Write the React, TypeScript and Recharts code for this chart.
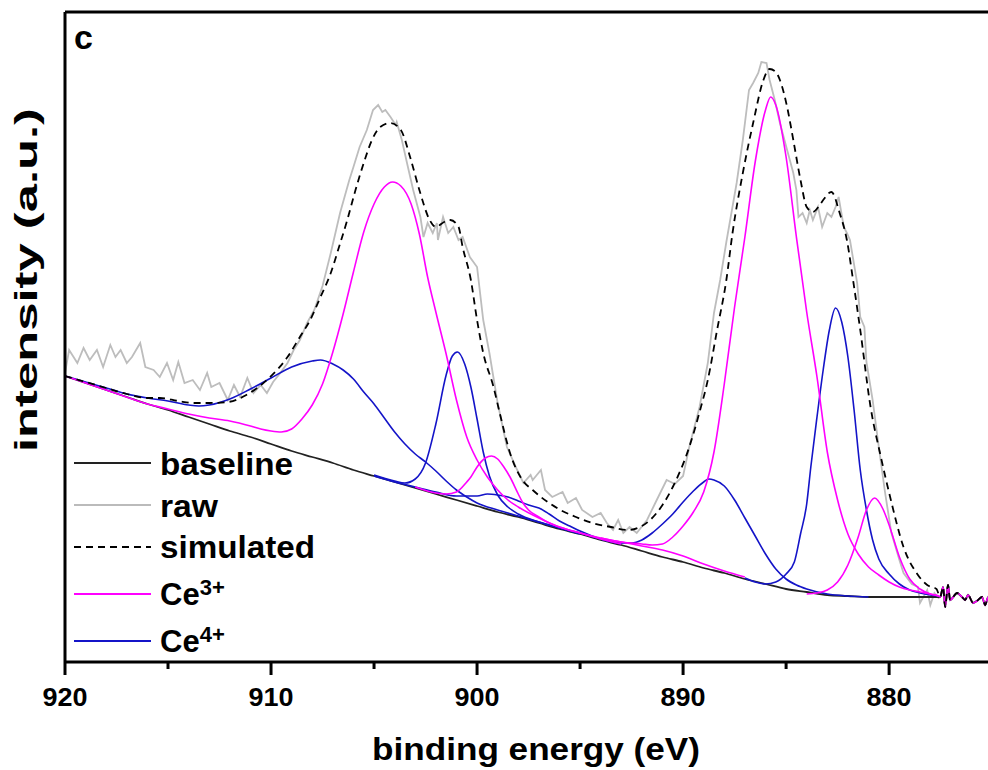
import { LineChart, Line, XAxis, YAxis, ReferenceLine } from 'recharts'

type Pt = [number, number]

// Ce 3d spectrum, binding energy (eV) vs. intensity (a.u.)
const baseline: Pt[] = [
  [920, 286], [919, 279], [918, 272], [917, 265], [916, 258], [915, 252], [914, 245], [913, 238],
  [912, 231], [911, 225], [910, 218], [909, 211], [908, 205], [907, 199], [906, 192], [905, 186],
  [904, 180], [903, 174], [902, 168], [901, 162], [900, 156], [899, 150], [898, 145], [897, 139],
  [896, 133], [895, 128], [894, 122], [893, 117], [892, 111], [891, 105], [890, 100], [889, 94],
  [888, 89], [887, 83], [886, 78], [885, 73], [884, 70], [883, 67], [882, 66], [881, 65],
  [880, 65], [879, 65], [878, 65], [877.6, 65],
]

// noisy low-energy end shared by the traces
const tail: Pt[] = [
  [877.52, 65], [877.38, 75], [877.28, 55], [877.14, 77], [877.04, 62], [876.7, 69], [876.46, 65],
  [876.31, 62], [876.17, 67], [875.92, 59], [875.68, 62], [875.49, 65], [875.34, 57], [875.19, 65],
  [875.0, 62],
]

const raw: Pt[] = [
  [920, 289], [919.8, 312], [919.4, 299], [919.1, 314], [918.8, 302], [918.45, 312], [918.15, 295],
  [917.8, 317], [917.55, 305], [917.3, 312], [917.0, 299], [916.75, 305], [916.35, 319], [916.1, 295],
  [915.7, 292], [915.4, 285], [915.05, 299], [914.75, 282], [914.5, 300], [914.2, 279], [913.8, 282],
  [913.45, 272], [913.1, 289], [912.9, 275], [912.5, 279], [912.1, 262], [911.8, 277], [911.5, 265],
  [911.15, 284], [910.85, 269], [910.5, 277], [910.2, 269], [909.9, 280], [909.55, 289], [909.2, 299],
  [908.9, 312], [908.6, 322], [908.25, 339], [907.9, 352], [907.5, 376], [907.1, 409], [906.65, 449],
  [906.2, 482], [906.0, 495], [905.7, 515], [905.35, 532], [905.05, 552], [904.8, 557], [904.6, 550],
  [904.45, 552], [904.2, 545], [903.95, 537], [903.9, 540], [903.65, 522], [903.4, 499], [903.1, 472],
  [902.75, 445], [902.6, 425], [902.4, 439], [902.15, 429], [901.95, 439], [901.9, 422], [901.65, 445],
  [901.4, 429], [901.15, 435], [900.9, 422], [900.7, 425], [900.35, 405], [900.0, 395], [899.7, 342],
  [899.4, 309], [899.0, 259], [898.55, 215], [898.05, 192], [897.75, 179], [897.4, 187], [897.3, 182],
  [896.9, 192], [896.7, 172], [896.35, 165], [895.85, 170], [895.6, 159], [895.2, 164], [894.9, 152],
  [894.4, 145], [894.0, 149], [893.7, 139], [893.4, 132], [893.15, 142], [892.9, 129], [892.6, 135],
  [892.25, 129], [891.75, 142], [891.35, 159], [890.8, 182], [890.4, 178], [890.0, 186], [889.7, 215],
  [889.2, 255], [888.8, 299], [888.5, 349], [888.2, 382], [887.9, 420], [887.4, 479], [887.1, 522],
  [886.8, 572], [886.6, 579], [886.35, 589], [886.2, 600], [885.95, 599], [885.8, 582], [885.55, 562],
  [885.3, 539], [884.95, 512], [884.65, 489], [884.5, 472], [884.4, 445], [884.2, 449], [884.0, 439],
  [883.85, 452], [883.7, 442], [883.45, 455], [883.25, 435], [883.0, 449], [882.8, 445], [882.6, 455],
  [882.45, 465], [882.2, 435], [882.05, 429], [881.9, 422], [881.55, 379], [881.4, 345], [881.2, 335],
  [881.1, 300], [880.8, 262], [880.5, 215], [880.2, 170], [879.9, 130], [879.5, 102], [879.3, 89],
  [878.9, 78], [878.6, 75], [878.5, 59], [878.15, 72], [878.0, 57], [877.8, 69], [877.6, 64],
]

const simulated: Pt[] = [
  [920, 286], [919, 280], [918, 274], [917, 268], [916, 264], [915.4, 264], [914.5, 261], [913.8, 259],
  [913, 259], [912.1, 260], [911.2, 267], [910.2, 282], [909.2, 305], [908.6, 325], [908.1, 342],
  [907.6, 365], [907.1, 389], [906.7, 415], [906.3, 442], [905.9, 472], [905.5, 499], [905.1, 522],
  [904.7, 535], [904.2, 539], [903.7, 532], [903.25, 505], [902.8, 472], [902.3, 442], [902, 435],
  [901.6, 440], [901.3, 442], [900.9, 435], [900.7, 415], [900.3, 382], [900, 342], [899.7, 309],
  [899.2, 275], [898.9, 249], [898.4, 209], [897.8, 182], [897.3, 172], [896.9, 165], [895.95, 152],
  [895.2, 145], [894.4, 139], [893.5, 135], [892.7, 132], [892.1, 135], [891.6, 142], [891, 157],
  [890.5, 175], [889.7, 215], [889.2, 250], [888.8, 282], [888.35, 332], [887.9, 382], [887.6, 429],
  [887.1, 489], [886.6, 539], [886.1, 582], [885.8, 593], [885.5, 590], [885.3, 582], [884.95, 555],
  [884.65, 522], [884.3, 482], [884, 455], [883.7, 450], [883.4, 456], [883.2, 462], [882.8, 470],
  [882.4, 449], [882.05, 422], [881.75, 382], [881.4, 332], [880.9, 255], [880.4, 205], [879.95, 165],
  [879.3, 115], [878.6, 87], [878.15, 77], [877.7, 73],
]

// Ce3+ fitted components
const ce3a: Pt[] = [
  [920, 286], [918, 272], [916, 258], [915, 253], [914, 248], [913, 244], [912, 241], [911, 236],
  [910.5, 233], [910, 231], [909.5, 230], [909, 233], [908.5, 243], [908, 257], [907.5, 278], [907, 310],
  [906.5, 348], [906, 390], [905.5, 430], [905, 458], [904.5, 475], [904.1, 480], [903.7, 476], [903.2, 458],
  [902.8, 428], [902.4, 385], [902, 350], [901.5, 308], [901, 262], [900.5, 225], [900, 202], [899.5, 185],
  [899, 172], [898.5, 162], [898, 155], [897, 144], [896, 135], [895, 129], [894, 124], [893, 120],
  [892, 116], [891, 112], [890, 106], [889, 98], [888, 91], [887, 85],
]
const ce3b: Pt[] = [
  [903, 175], [902, 169], [901.5, 168], [901, 170], [900.5, 180], [900.3, 185], [900, 195], [899.6, 204],
  [899.3, 206], [899, 203], [898.7, 195], [898.4, 185], [898, 168], [897.8, 160], [897.5, 152],
  [897, 145], [896.5, 139], [896, 135], [895, 129], [894, 123], [893, 118],
]
const ce3c: Pt[] = [
  [894, 124], [893, 120], [892, 118], [891.5, 117], [891, 118], [890.5, 125], [890, 136], [889.5, 150],
  [889, 170], [888.5, 210], [888, 278], [887.5, 355], [887, 425], [886.5, 500], [886, 552], [885.75, 565],
  [885.5, 557], [885, 505], [884.5, 425], [884, 350], [883.5, 285], [883, 210], [882.5, 162], [882, 128],
  [881.5, 108], [881, 95], [880.5, 87], [880, 80], [879.5, 75], [879, 72], [878.5, 70], [878, 68],
  [877.6, 66],
]
const ce3d: Pt[] = [
  [884, 68], [883.5, 69], [883, 72], [882.5, 80], [882, 97], [881.5, 125], [881.1, 152], [880.7, 164],
  [880.3, 153], [880, 137], [879.5, 105], [879, 83], [878.5, 73], [878, 68], [877.6, 66],
]

// Ce4+ fitted components
const ce4a: Pt[] = [
  [920, 286], [919, 280], [918, 274], [917, 268], [916, 264], [915, 261], [914, 257], [913.5, 256],
  [913, 257], [912, 263], [911, 273], [910, 284], [909, 295], [908, 301], [907.6, 302], [907, 298],
  [906.5, 292], [906, 283], [905.5, 270], [905, 258], [904.5, 244], [904, 230], [903.5, 218], [903, 208],
  [902.5, 200], [902, 191], [901.5, 181], [901, 172], [900.5, 165], [900, 159], [899, 152], [898, 146],
  [897, 140], [896, 134], [895, 129],
]
const ce4b: Pt[] = [
  [905, 187], [904, 181], [903.5, 179], [903, 183], [902.5, 199], [902, 238], [901.5, 287], [901.2, 306],
  [900.95, 310], [900.6, 298], [900.3, 275], [900, 243], [899.7, 210], [899.4, 186], [899, 167],
  [898.5, 155], [898, 148], [897, 140], [896, 134], [895, 128],
]
const ce4c: Pt[] = [
  [905, 186], [904, 180], [903, 175], [902, 170], [901, 166], [900, 166], [899.5, 168], [899, 167],
  [898.5, 165], [898, 161], [897.5, 157], [897, 154], [896.5, 148], [896, 141], [895.5, 136], [895, 131],
  [894, 123], [893, 118],
]
const ce4d: Pt[] = [
  [895, 129], [894, 123], [893, 119], [892.5, 119], [892, 122], [891.5, 129], [891, 138], [890.5, 148],
  [890, 160], [889.5, 171], [889, 180], [888.75, 183], [888.5, 182], [888, 176], [887.5, 162], [887, 144],
  [886.5, 126], [886, 108], [885.5, 93], [885, 83], [884.5, 77], [884, 73], [883, 68], [882, 66], [881, 65],
]
const ce4e: Pt[] = [
  [887, 84], [886.5, 80], [886, 78], [885.5, 80], [885, 88], [884.6, 100], [884.3, 128], [884, 158],
  [883.8, 195], [883.5, 245], [883.2, 292], [882.9, 332], [882.6, 354], [882.3, 340], [882, 305],
  [881.7, 252], [881.4, 192], [881.1, 152], [880.8, 122], [880.5, 103], [880, 88], [879.5, 78], [879, 72],
  [878.5, 69], [878, 67], [877.6, 66],
]

const energyTicks = [920, 915, 910, 905, 900, 895, 890, 885, 880]

const FONT = '"Liberation Sans", Arial, Helvetica, sans-serif'
const MAGENTA = '#f0f'
const BLUE = '#1414c8'

const rows = (pts: Pt[]) => pts.map(([e, v]) => ({ e, v }))

function EnergyTick({ x, y, payload }: any) {
  const major = payload.value % 10 === 0
  return (
    <g>
      <line x1={x} x2={x} y1={y} y2={y + (major ? 13 : 7)} stroke="#000" strokeWidth={3} />
      {major && (
        <text x={x} y={y + 44} textAnchor="middle" fontFamily={FONT} fontWeight="bold" fontSize={26}
          textLength={45} lengthAdjust="spacingAndGlyphs" fill="#000">
          {payload.value}
        </text>
      )}
    </g>
  )
}

const legendRows = [
  { label: 'baseline', color: '#222', dash: undefined, lineY: 463, textY: 475, len: 133 },
  { label: 'raw', color: '#bbb', dash: undefined, lineY: 505, textY: 517, len: 58 },
  { label: 'simulated', color: '#000', dash: '7 5', lineY: 547, textY: 558, len: 155 },
]

function Overlay() {
  const txt = { fontFamily: FONT, fontWeight: 'bold' as const, fill: '#000' }
  return (
    <svg width={988} height={770} style={{ position: 'absolute', left: 0, top: 0, pointerEvents: 'none' }}>
      <text x={74} y={49} fontSize={34} {...txt}>c</text>
      <text transform="translate(37,280) rotate(-90)" textAnchor="middle" fontSize={32}
        textLength={344} lengthAdjust="spacingAndGlyphs" {...txt}>intensity (a.u.)</text>
      <text x={536} y={760} textAnchor="middle" fontSize={31}
        textLength={328} lengthAdjust="spacingAndGlyphs" {...txt}>binding energy (eV)</text>
      {legendRows.map((r) => (
        <g key={r.label}>
          <line x1={74} x2={151} y1={r.lineY} y2={r.lineY} stroke={r.color} strokeWidth={2} strokeDasharray={r.dash} />
          <text x={160} y={r.textY} fontSize={31} textLength={r.len} lengthAdjust="spacingAndGlyphs" {...txt}>{r.label}</text>
        </g>
      ))}
      <line x1={74} x2={151} y1={594} y2={594} stroke={MAGENTA} strokeWidth={2} />
      <text x={160} y={605} fontSize={31} {...txt}>
        Ce<tspan fontSize={22} dy={-10}>3+</tspan>
      </text>
      <line x1={74} x2={151} y1={641} y2={641} stroke={BLUE} strokeWidth={2} />
      <text x={160} y={652} fontSize={31} {...txt}>
        Ce<tspan fontSize={22} dy={-10}>4+</tspan>
      </text>
    </svg>
  )
}

export default function App() {
  const common = { dataKey: 'v', dot: false, activeDot: false, isAnimationActive: false } as const
  return (
    <div style={{ position: 'absolute', left: 0, top: 0, width: 988, height: 770, background: '#fff', overflow: 'hidden' }}>
      <LineChart width={988} height={770} margin={{ top: 12, right: 0, bottom: 0, left: 0 }}>
        <XAxis dataKey="e" type="number" domain={[875.2, 920]} reversed allowDataOverflow
          ticks={energyTicks} interval={0} height={108} tickSize={0} tickMargin={0} tickLine={false}
          tick={<EnergyTick />} axisLine={{ stroke: '#000', strokeWidth: 3 }} />
        <YAxis type="number" domain={[0, 650]} allowDataOverflow width={65} tick={false} tickLine={false}
          axisLine={{ stroke: '#000', strokeWidth: 3 }} />
        <ReferenceLine y={650} stroke="#000" strokeWidth={3} />

        <Line {...common} data={rows([...raw, ...tail])} type="linear" stroke="#bdbdbd" strokeWidth={1.8} />
        <Line {...common} data={rows([...baseline, ...tail])} type="monotone" stroke="#222" strokeWidth={1.8} />

        <Line {...common} data={rows(ce4a)} type="monotone" stroke={BLUE} strokeWidth={1.6} />
        <Line {...common} data={rows(ce4b)} type="monotone" stroke={BLUE} strokeWidth={1.6} />
        <Line {...common} data={rows(ce4c)} type="monotone" stroke={BLUE} strokeWidth={1.6} />
        <Line {...common} data={rows(ce4d)} type="monotone" stroke={BLUE} strokeWidth={1.6} />
        <Line {...common} data={rows(ce4e)} type="monotone" stroke={BLUE} strokeWidth={1.6} />

        <Line {...common} data={rows(ce3a)} type="monotone" stroke={MAGENTA} strokeWidth={1.6} />
        <Line {...common} data={rows(ce3b)} type="monotone" stroke={MAGENTA} strokeWidth={1.6} />
        <Line {...common} data={rows(ce3c)} type="monotone" stroke={MAGENTA} strokeWidth={1.6} />
        <Line {...common} data={rows([...ce3d, ...tail])} type="monotone" stroke={MAGENTA} strokeWidth={1.6} />

        <Line {...common} data={rows([...simulated, ...tail])} type="monotone" stroke="#000"
          strokeWidth={1.8} strokeDasharray="7 5" />
      </LineChart>
      <Overlay />
    </div>
  )
}
